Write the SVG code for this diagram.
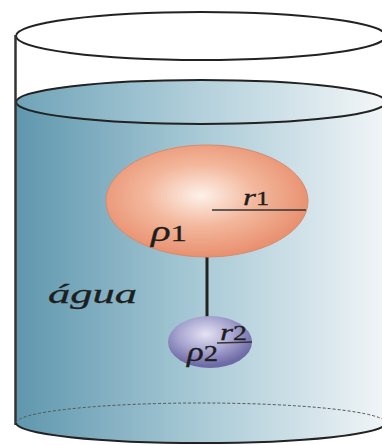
<svg xmlns="http://www.w3.org/2000/svg" width="382" height="445" viewBox="0 0 382 445">
  <defs>
    <linearGradient id="water" x1="0" y1="0" x2="1" y2="0">
      <stop offset="0" stop-color="#5f97ae"/>
      <stop offset="0.5" stop-color="#a9cad6"/>
      <stop offset="1" stop-color="#f1f5f7"/>
    </linearGradient>
    <linearGradient id="surface" x1="0" y1="0" x2="1" y2="0">
      <stop offset="0" stop-color="#6fa3b8"/>
      <stop offset="0.5" stop-color="#b3d0db"/>
      <stop offset="1" stop-color="#f3f7f8"/>
    </linearGradient>
    <radialGradient id="ball1" cx="0.47" cy="0.45" r="0.55">
      <stop offset="0" stop-color="#fdf1ea"/>
      <stop offset="0.5" stop-color="#f3b79c"/>
      <stop offset="1" stop-color="#e8906f"/>
    </radialGradient>
    <radialGradient id="ball2" cx="0.45" cy="0.35" r="0.6">
      <stop offset="0" stop-color="#e4e3f4"/>
      <stop offset="0.55" stop-color="#a7a4d0"/>
      <stop offset="1" stop-color="#6e6aa6"/>
    </radialGradient>
    <style>
      .rim { fill: none; stroke: #222; stroke-width: 2; }
      .lbl { font-family: 'Liberation Serif', 'Times New Roman', serif; font-style: italic; fill: #1e1e1e; stroke: #1e1e1e; stroke-width: 0.3; }
      .num { font-style: normal; }
    </style>
  </defs>

  <!-- water body -->
  <path d="M16,102 L16,423 A185,20 0 0 0 386,423 L386,102 Z" fill="url(#water)"/>
  <ellipse cx="201" cy="102" rx="185" ry="22" fill="url(#surface)"/>

  <!-- glass -->
  <ellipse class="rim" cx="201" cy="36" rx="185" ry="24"/>
  <ellipse class="rim" cx="201" cy="102" rx="185" ry="22"/>
  <line x1="15.5" y1="35" x2="15.5" y2="425" stroke="#333" stroke-width="2.5"/>
  <path d="M16,423 A185,20 0 0 1 386,423" fill="none" stroke="#555" stroke-width="1" stroke-dasharray="3,2"/>
  <path d="M16,423 A185,20 0 0 0 386,423" fill="none" stroke="#222" stroke-width="2"/>

  <!-- labels are drawn wide, like the stretched figure -->
  <text class="lbl" x="48" y="303" font-size="27" textLength="89" lengthAdjust="spacingAndGlyphs">água</text>

  <!-- string -->
  <g id="connectors">
    <line x1="207" y1="256" x2="207" y2="322" stroke="#222" stroke-width="3"/>
  </g>

  <g id="sphere1">
    <ellipse cx="207" cy="201" rx="101" ry="56" fill="url(#ball1)" stroke="#d98a6c" stroke-width="1"/>
    <line x1="212" y1="210" x2="306" y2="210" stroke="#333" stroke-width="1.5"/>
    <text class="lbl" x="243" y="205" font-size="24" textLength="26" lengthAdjust="spacingAndGlyphs">r<tspan class="num" font-size="19">1</tspan></text>
    <text class="lbl" x="151" y="241" font-size="30" textLength="36" lengthAdjust="spacingAndGlyphs">ρ<tspan class="num" font-size="24">1</tspan></text>
  </g>

  <g id="sphere2">
    <ellipse cx="210" cy="342" rx="42" ry="26" fill="url(#ball2)"/>
    <line x1="217" y1="343" x2="252" y2="342" stroke="#333" stroke-width="1.5"/>
    <text class="lbl" x="220" y="340" font-size="24" textLength="27" lengthAdjust="spacingAndGlyphs">r<tspan class="num" font-size="20">2</tspan></text>
    <text class="lbl" x="187" y="361" font-size="28" textLength="31" lengthAdjust="spacingAndGlyphs">ρ<tspan class="num" font-size="23">2</tspan></text>
  </g>
</svg>
